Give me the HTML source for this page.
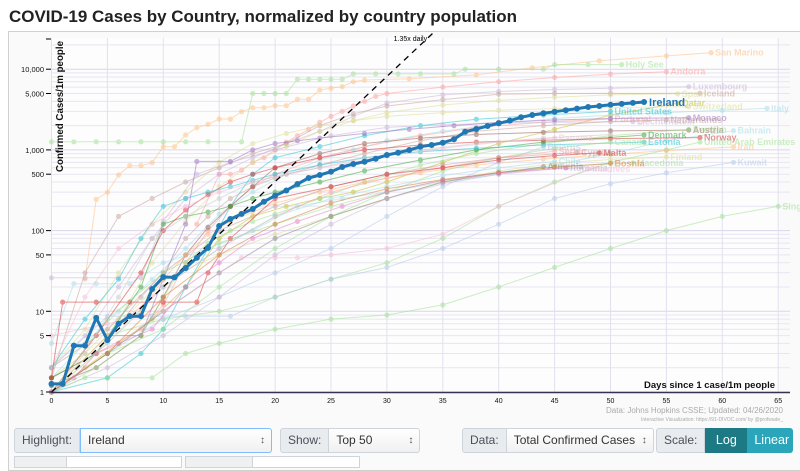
<!DOCTYPE html>
<html><head><meta charset="utf-8">
<style>
body{margin:0;width:800px;height:461px;overflow:hidden;background:#fff;font-family:"Liberation Sans",sans-serif;position:relative}
#card{position:absolute;left:8px;top:31px;width:800px;height:440px;border:1px solid #d0d0d0;background:#fafafa;box-sizing:border-box}
.grp{position:absolute;top:428px;height:25px;display:flex;font-size:12px;color:#495057}
.lab{background:#e9ecef;border:1px solid #ced4da;border-radius:3px 0 0 3px;padding:0 7px;line-height:23px}
.sel{background:linear-gradient(#fff,#f0f0f0);border:1px solid #ced4da;border-left:none;border-radius:0 3px 3px 0;padding:0 7px;line-height:23px;position:relative;color:#333}
.sel:after{content:"\2195";position:absolute;right:6px;top:0;font-size:10px;color:#555}
.btn{color:#fff;line-height:25px;padding:0 7px;font-size:12.5px}
.row2{position:absolute;top:456px;height:10px;border:1px solid #ced4da;background:#eef0f2}
</style></head><body>
<svg width="800" height="31" style="position:absolute;left:0;top:0">
<text x="9" y="22" font-family="Liberation Sans, sans-serif" font-weight="bold" font-size="17" fill="#222" textLength="508" lengthAdjust="spacingAndGlyphs">COVID-19 Cases by Country, normalized by country population</text>
</svg>
<div id="card"></div>
<svg id="chart" width="800" height="461" style="position:absolute;left:0;top:0"></svg>

<div class="grp" style="left:14px">
<div class="lab">Highlight:</div>
<div class="sel" style="width:176px;border:1px solid #80bdff;border-left:1px solid #80bdff">Ireland</div></div>
<div class="grp" style="left:280px">
<div class="lab">Show:</div>
<div class="sel" style="width:76px">Top 50</div></div>
<div class="grp" style="left:462px">
<div class="lab">Data:</div>
<div class="sel" style="width:132px">Total Confirmed Cases</div></div>
<div class="grp" style="left:656px">
<div class="lab">Scale:</div>
<div class="btn" style="background:#1d7a85;width:28px;text-align:center">Log</div>
<div class="btn" style="background:#2aa5b9;border-radius:0 3px 3px 0;width:32px;text-align:center">Linear</div></div>
<div class="row2" style="left:14px;width:52px"></div>
<div class="row2" style="left:66px;width:114px;background:#fff"></div>
<div class="row2" style="left:185px;width:67px"></div>
<div class="row2" style="left:252px;width:106px;background:#fff"></div>

<script>
const xTicks=[0,5,10,15,20,25,30,35,40,45,50,55,60,65];
const yTickVals=[1,5,10,50,100,500,1000,5000,10000];
const yTickLabels=["1","5","10","50","100","500","1,000","5,000","10,000"];
const irelandValues=[1.26,1.26,3.75,3.75,8.3,4.4,7.0,8.7,8.7,18.9,26.6,26.3,34.4,46,61,114,139,161,185,228,271,314,378,448,489,537,614,669,714,778,865,923,997,1096,1150,1228,1353,1681,1816,1979,2137,2302,2536,2706,2842,2974,3100,3250,3400,3500,3620,3720,3820,3920];
const growthRate=1.35;
const seriesNames=["San Marino","Holy See","Andorra","Luxembourg","Iceland","Spain","Qatar","Switzerland","Italy","United States","Portugal","Liechtenstein","Netherlands","Monaco","Austria","Sweden","Bahrain","Denmark","Norway","United Arab Emirates","Iran","Estonia","Canada","Belarus","Panama","Serbia","Cyprus","Malta","Finland","Macedonia","Kuwait","Chile","Armenia","Romania","Maldives","Bosnia","Singapore","",""];
const seriesColors=["#ffbb78","#98df8a","#ff9896","#c5b0d5","#c49c94","#dbdb8d","#bcbd22","#dbdb8d","#9edae5","#17becf","#ff9896","#c5b0d5","#c49c94","#9467bd","#8c564b","#98df8a","#9edae5","#2ca02c","#d62728","#98df8a","#ffbb78","#17becf","#98df8a","#aec7e8","#f7b6d2","#ff9896","#c49c94","#d62728","#dbdb8d","#98df8a","#aec7e8","#9edae5","#7f7f7f","#c5b0d5","#f7b6d2","#d6742c","#98df8a","#c7c7c7","#e377c2"];
const seriesDays=[
[3,4,5,6,7,8,9,10,11,12,13,14,15,16,17,18,19,20,21,22,23,24,25,26,27,28,32,38,43,49,55,59],
[0,2,4,6,8,10,12,14,17,18,19,20,21,22,23,24,25,26,27,29,31,33,36,37,40,44,45,48,51],
[13,15,16,17,18,19,20,21,22,23,24,25,26,27,28,29,30,35,40,45,50,55],
[0,3,6,9,12,15,18,21,24,27,30,35,40,45,50,57],
[0,3,6,9,12,15,18,21,24,27,30,35,40,45,50,58],
[0,3,6,9,12,15,18,21,24,27,30,35,40,45,50,56],
[0,3,6,9,12,15,18,21,24,27,30,35,40,45,50,56],
[0,3,6,9,12,15,18,21,24,27,30,35,40,45,50,57],
[0,3,6,9,12,15,18,21,24,27,30,35,40,45,50,55,60,64],
[0,5,8,10,12,14,16,18,20,24,28,33,38,44,50],
[0,4,8,10,12,14,16,18,20,24,28,33,38,44,50],
[0,3,6,8,10,13,16,20,25,30,35,40,45,52],
[0,4,8,10,12,14,16,18,20,24,28,33,38,44,50,55],
[5,8,10,12,13,16,18,20,22,24,28,32,36,40,45,50,57],
[0,4,8,10,12,14,16,18,20,24,28,33,38,44,50,57],
[0,4,8,10,12,14,16,18,20,24,28,33,38,44,50,57],
[0,2,4,7,10,14,18,22,26,30,35,40,45,50,55,61],
[0,4,8,10,12,14,16,18,20,24,28,33,38,44,53],
[0,4,8,10,12,14,16,18,20,24,28,33,38,44,50,58],
[0,5,10,15,20,25,30,35,40,45,50,55,58],
[0,4,8,10,12,14,16,18,20,24,28,33,38,44,50,55,61],
[0,3,6,8,10,12,14,16,18,20,24,28,33,38,44,53],
[0,5,10,15,20,25,30,35,40,45,50],
[0,5,10,15,20,25,30,35,40,44],
[0,3,6,9,12,15,18,21,24,27,30,35,40,45],
[0,5,10,15,20,25,30,35,40,45],
[0,5,10,15,20,25,30,35,40,47],
[0,1,4,7,10,13,14,16,20,25,30,35,40,45,49],
[0,5,10,15,20,25,30,35,40,45,50,55],
[0,5,10,15,20,25,30,35,40,45,52],
[0,5,9,12,16,20,25,30,35,40,45,50,55,61],
[0,5,10,15,20,25,30,35,40,45],
[0,5,10,15,20,25,30,35,40,44],
[0,5,10,15,20,25,30,35,40,46],
[0,5,10,17,20,22,25,30,35,40,48],
[0,5,10,15,20,25,30,35,40,45,50],
[0,3,5,9,12,15,20,25,30,35,40,45,50,55,60,65],
[0,3,6,9,12,15,18,21,24,28,33,38,44,50],
[0,2,4,6,9,12,15,18,22,26,30,35,40,46]];
const seriesVals=[
[25,244,298,489,638,638,695,1096,1096,1531,1884,2076,2415,2415,2974,3333,3333,3530,3530,4240,4240,5520,5800,6080,7000,7350,7600,8500,10400,12700,14600,16000],
[1260,1260,1260,1260,1260,1260,1260,1260,1260,5000,5000,5000,5000,7500,7500,7500,7500,7500,8750,8750,8750,8750,8750,10000,10000,10000,11400,11400,11400],
[120,500,500,560,700,800,1000,1250,1500,1800,2200,2600,3000,3500,4000,4600,5000,6000,7000,7900,8700,9300],
[2,5,20,80,250,500,800,1200,1700,2600,3800,4800,5300,5600,5800,6070],
[1.5,30,150,250,400,600,900,1200,2000,2800,3500,4200,4900,5000,5020,5030],
[1.5,3,8,40,130,350,700,1100,1700,2300,2900,3600,4100,4500,4800,4950],
[1,2,4,8,20,80,150,200,250,300,400,700,1200,1800,2700,3800],
[2,6,30,120,300,700,1200,1600,2000,2300,2600,2900,3100,3250,3350,3430],
[1.5,4,10,25,60,160,300,500,750,1000,1300,1700,2100,2450,2700,2900,3100,3270],
[1,1.5,3,6,20,60,200,500,800,1100,1500,2000,2400,2700,3000],
[1.5,3,6,12,40,100,200,350,500,800,1100,1500,1900,2200,2415],
[26,26,26,26,130,500,700,1000,1500,1900,2050,2150,2200,2240],
[1.5,3,15,30,80,150,250,350,450,650,900,1300,1700,2000,2250,2350],
[5,5,25,120,720,720,1000,1200,1300,1400,1600,1800,2000,2200,2350,2450,2500],
[1.2,2,5,15,50,110,200,350,600,900,1200,1400,1550,1650,1720,1760],
[1,2,5,15,40,70,100,130,160,250,400,650,900,1200,1500,1800],
[4,22,22,22,40,60,100,200,250,300,400,500,650,900,1300,1730],
[1.5,3,20,120,150,170,200,250,300,400,550,750,1000,1250,1530],
[1,5,30,100,180,280,400,500,600,800,1000,1150,1250,1320,1380,1420],
[1,5,8,10,15,25,40,80,200,400,700,1000,1250],
[1,3,10,25,50,90,130,170,220,300,400,520,650,770,880,980,1090],
[2,8,25,80,200,250,300,350,420,500,650,800,950,1050,1150,1250],
[1,3,6,20,60,150,300,550,800,1050,1250],
[1,3,8,15,30,60,150,350,700,1090],
[2,15,60,120,200,300,400,500,600,700,850,1050,1250,1400],
[1,5,20,60,150,300,450,600,800,960],
[2,6,30,100,200,350,500,650,800,930],
[1.5,13,13,13,13,13,30,80,250,350,500,600,750,850,920],
[1,5,25,50,90,150,250,400,550,680,760,820],
[1,8,30,70,120,200,300,420,530,620,690],
[2,8.7,8.7,8.7,8.7,15,25,35,60,120,250,380,520,700],
[1,4,20,60,150,250,350,480,600,720],
[1,3,10,30,80,150,250,400,520,620],
[1,2,5,15,50,120,250,380,500,600],
[5,7,10,46,46,46,50,60,90,200,580],
[1,3,15,50,120,220,330,430,520,610,680],
[1,1.5,1.5,1.5,3,4,6,8,9,12,20,35,60,100,150,200],
[1,3,15,80,150,250,400,500,600,800,1000,1200,1400,1550],
[1,1.5,3,4,6,20,40,80,130,200,300,420,520,600]];

const svg=document.getElementById('chart');
const NS="http://www.w3.org/2000/svg";
const X0=51.5,DX=11.18,Y1=392,DEC=80.7;
function xs(d){return X0+d*DX;}
function ys(v){return Y1-DEC*Math.log10(v);}
function mk(tag,attrs,parent){const e=document.createElementNS(NS,tag);for(const k in attrs)e.setAttribute(k,attrs[k]);(parent||svg).appendChild(e);return e;}

const bg=mk('rect',{x:51,y:38,width:728,height:354,fill:'#fdfdfd'});


const gridG=mk('g',{});


for(let p=0;p<5;p++){for(let m=1;m<10;m++){const v=m*Math.pow(10,p);if(v>23000)break;
 const l=mk('line',{x1:51,x2:790,y1:ys(v),y2:ys(v),stroke:m==1?'#d9d6ea':'#e7e5f1','stroke-width':1},gridG);
 
 }}
xTicks.forEach(d=>{const l=mk('line',{x1:xs(d),x2:xs(d),y1:38,y2:392,stroke:'#e2e0ef','stroke-width':1},gridG);
 
 });

const serG=mk('g',{});


seriesNames.forEach((nm,i)=>{
 const g=mk('g',{opacity:0.5},serG);
 
 
 const days=seriesDays[i],vals=seriesVals[i],c=seriesColors[i];
 const pts=days.map((d,j)=>xs(d).toFixed(1)+','+ys(vals[j]).toFixed(1)).join(' ');
 const pl=mk('polyline',{points:pts,fill:'none',stroke:c,'stroke-width':1},g);
 
 
 days.forEach((d,j)=>{const c1=mk('circle',{cx:xs(d),cy:ys(vals[j]),r:2.6,fill:c},g);
  
  });
 if(nm){const ld=days[days.length-1],lv=vals[vals.length-1];
  const t=mk('text',{x:xs(ld)+4,y:ys(lv)+3,'font-size':9,'font-weight':'bold',fill:c,'font-family':'Liberation Sans, sans-serif'},g);
  t.textContent=nm;
  
  }
});

const endDay=Math.log10(Math.pow(10,(Y1-33)/DEC))/Math.log10(growthRate);
const gl=mk('line',{x1:xs(0),y1:ys(1),x2:xs(endDay),y2:ys(Math.pow(growthRate,endDay)),stroke:'#000','stroke-width':1.3,'stroke-dasharray':'6,5'});


const gt=mk('text',{x:xs(endDay)-6,y:41,'font-size':7,'text-anchor':'end',fill:'#000','font-family':'Liberation Sans, sans-serif'});
gt.textContent='1.35x daily';



const ig=mk('g',{});


const ipl=mk('polyline',{points:irelandValues.map((v,d)=>xs(d).toFixed(1)+','+ys(v).toFixed(1)).join(' '),fill:'none',stroke:'#1f77b4','stroke-width':3,'stroke-linejoin':'round'},ig);


irelandValues.forEach((v,d)=>{const c=mk('circle',{cx:xs(d),cy:ys(v),r:3,fill:'#1f77b4'},ig);
 
 });
const il=mk('text',{x:xs(irelandValues.length-1)+5,y:ys(irelandValues[irelandValues.length-1])+4,'font-size':11,'font-weight':'bold',fill:'#1f77b4','font-family':'Liberation Sans, sans-serif'},ig);
il.textContent='Ireland';



const ax=mk('line',{x1:51,x2:790,y1:392.5,y2:392.5,stroke:'#3a3050','stroke-width':1.5});


xTicks.forEach(d=>{const t=mk('text',{x:xs(d),y:403,'font-size':7,'text-anchor':'middle',fill:'#111','font-family':'Liberation Sans, sans-serif'});
 t.textContent=String(d);
 
 });
yTickVals.forEach((v,i)=>{const tm=mk('line',{x1:46,x2:51,y1:ys(v),y2:ys(v),stroke:'#000','stroke-width':1});
 
 
 const t=mk('text',{x:44,y:ys(v)+3,'font-size':7.5,'text-anchor':'end',fill:'#111','font-family':'Liberation Sans, sans-serif'});
 t.textContent=yTickLabels[i];
 
 });
const tt=mk('line',{x1:46,x2:51,y1:39,y2:39,stroke:'#000','stroke-width':1});


const yt=mk('text',{x:0,y:0,'font-size':10,'font-weight':'bold',fill:'#111',transform:'translate(63,172) rotate(-90)','font-family':'Liberation Sans, sans-serif',textLength:131,lengthAdjust:'spacingAndGlyphs'});
yt.textContent='Confirmed Cases/1m people';


const xt=mk('text',{x:775,y:388,'font-size':9.5,'font-weight':'bold','text-anchor':'end',fill:'#111','font-family':'Liberation Sans, sans-serif'});
xt.textContent='Days since 1 case/1m people';


const s1=mk('text',{x:783,y:413,'font-size':8,'text-anchor':'end',fill:'#aaa','font-family':'Liberation Sans, sans-serif'});
s1.textContent='Data: Johns Hopkins CSSE; Updated: 04/26/2020';


const s2=mk('text',{x:783,y:421,'font-size':5,'text-anchor':'end',fill:'#aaa','font-family':'Liberation Sans, sans-serif'});
s2.textContent='Interactive Visualization: https://91-DIVOC.com/ by @profwade_';


</script>
</body></html>
